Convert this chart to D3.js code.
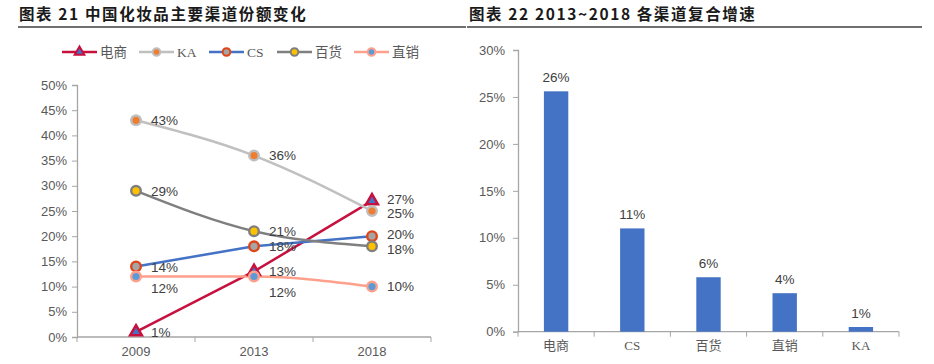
<!DOCTYPE html>
<html><head><meta charset="utf-8">
<script src="https://cdn.jsdelivr.net/npm/d3@7"></script>
<style>
body{margin:0;background:#fff;}
svg{display:block;}
</style></head>
<body>
<svg id="c" width="934" height="364"></svg>
<script>
// ---- data ----
const years = ["2009", "2013", "2018"];
const seriesNames = ["电商", "KA", "CS", "百货", "直销"];
const ecomShare = [1, 13, 27];
const kaShare = [43, 36, 25];
const csShare = [14, 18, 20];
const deptShare = [29, 21, 18];
const directShare = [12, 12, 10];
const leftTicks = [0, 5, 10, 15, 20, 25, 30, 35, 40, 45, 50];

const cagrCategories = ["电商", "CS", "百货", "直销", "KA"];
const cagrValues = [25.6, 11.0, 5.8, 4.1, 0.5];
const cagrLabels = ["26%", "11%", "6%", "4%", "1%"];
const rightTicks = [0, 5, 10, 15, 20, 25, 30];

const title1 = "图表 21 中国化妆品主要渠道份额变化";
const title2 = "图表 22 2013~2018 各渠道复合增速";

// ---- styles ----
const sans = "Liberation Sans, Arial, 'Noto Sans CJK SC', sans-serif";
const serif = "'Liberation Serif', 'Times New Roman', 'Noto Sans CJK SC', serif";
const axisColor = "#A6A6A6";
const tickText = "#595959";
const labelText = "#404040";

const series = [
  {name: seriesNames[0], values: ecomShare, line: "#C8103E", ring: "#C8103E", fill: "#4472C4", shape: "tri", smooth: false, dy: [0,0,-2]},
  {name: seriesNames[1], values: kaShare, line: "#C0C0C0", ring: "#BFBFBF", fill: "#ED7D31", shape: "circ", smooth: true, dy: [0,0,2]},
  {name: seriesNames[2], values: csShare, line: "#4472C4", ring: "#E0451A", fill: "#A5A5A5", shape: "circ", smooth: false, dy: [1,0,-2]},
  {name: seriesNames[3], values: deptShare, line: "#7F7F7F", ring: "#7F7F7F", fill: "#FFC000", shape: "circ", smooth: true, dy: [0,0,2.5]},
  {name: seriesNames[4], values: directShare, line: "#FFA08C", ring: "#FFA08C", fill: "#5B9BD5", shape: "circ", smooth: true, dy: [12,16,0]}
];

const svg = d3.select("#c");

// titles
function drawTitle(x, text, x1, x2) {
  svg.append("text").attr("x", x).attr("y", 20)
    .attr("font-family", "'Noto Sans CJK SC', sans-serif").attr("font-weight", "bold")
    .attr("font-size", 15.5).attr("letter-spacing", 1.6).attr("fill", "#1a1a1a").text(text);
  svg.append("line").attr("x1", x1).attr("x2", x2).attr("y1", 27).attr("y2", 27)
    .attr("stroke", "#404040").attr("stroke-width", 1.5);
}
drawTitle(19, title1, 18, 466);
drawTitle(469, title2, 467, 922);

// ---- left chart ----
const x1 = d3.scaleBand().domain(years).range([77, 431]);
const y1 = d3.scaleLinear().domain([0, 50]).range([337, 85]);

const gy1 = svg.append("g").attr("transform", "translate(77,0)")
  .call(d3.axisLeft(y1).tickValues(leftTicks).tickFormat(d => d + "%").tickSize(5).tickPadding(5));
const gx1 = svg.append("g").attr("transform", "translate(0,337)")
  .call(d3.axisBottom(x1).tickSize(0).tickPadding(10));
// category boundary ticks
svg.append("g").selectAll("line").data([77, ...years.map(d => x1(d) + x1.bandwidth())]).join("line")
  .attr("x1", d => d).attr("x2", d => d).attr("y1", 337).attr("y2", 342).attr("stroke", axisColor);

function styleAxis(g, fontFam) {
  g.select(".domain").attr("stroke", axisColor).attr("stroke-width", 1.3);
  g.selectAll(".tick line").attr("stroke", axisColor);
  g.selectAll(".tick text").attr("fill", tickText).attr("font-size", 13).attr("font-family", fontFam);
}
styleAxis(gy1, sans);
styleAxis(gx1, sans);
gx1.select(".domain").attr("d", "M77,0H431");

const cx = d => x1(d) + x1.bandwidth() / 2;

series.forEach(s => {
  const pts = years.map((yr, i) => [cx(yr), y1(s.values[i])]);
  const line = d3.line().curve(s.smooth ? d3.curveMonotoneX : d3.curveLinear);
  svg.append("path").attr("d", line(pts)).attr("fill", "none")
    .attr("stroke", s.line).attr("stroke-width", 2.5);
});
series.forEach(s => {
  const pts = years.map((yr, i) => [cx(yr), y1(s.values[i])]);
  pts.forEach(([px, py], i) => {
    if (s.shape === "tri") {
      svg.append("path").attr("d", d3.symbol().type(d3.symbolTriangle).size(60)())
        .attr("transform", `translate(${px},${py})`)
        .attr("fill", s.fill).attr("stroke", s.ring).attr("stroke-width", 2.5);
    } else {
      svg.append("circle").attr("cx", px).attr("cy", py).attr("r", 4.8)
        .attr("fill", s.fill).attr("stroke", s.ring).attr("stroke-width", 2.4);
    }
    svg.append("text").attr("x", px + 15).attr("y", py + s.dy[i]).attr("dy", "0.35em")
      .attr("font-family", sans).attr("font-size", 13.5).attr("fill", labelText)
      .text(s.values[i] + "%");
  });
});

// legend
const legendX = [62, 139, 209, 277, 354];
series.forEach((s, i) => {
  const lx = legendX[i], ly = 52;
  const g = svg.append("g");
  g.append("line").attr("x1", lx).attr("x2", lx + 35).attr("y1", ly).attr("y2", ly)
    .attr("stroke", s.line).attr("stroke-width", 2.5);
  if (s.shape === "tri") {
    g.append("path").attr("d", d3.symbol().type(d3.symbolTriangle).size(40)())
      .attr("transform", `translate(${lx + 17.5},${ly})`)
      .attr("fill", s.fill).attr("stroke", s.ring).attr("stroke-width", 2);
  } else {
    g.append("circle").attr("cx", lx + 17.5).attr("cy", ly).attr("r", 3.8)
      .attr("fill", s.fill).attr("stroke", s.ring).attr("stroke-width", 2);
  }
  g.append("text").attr("x", lx + 38).attr("y", ly).attr("dy", "0.35em")
    .attr("font-family", serif).attr("font-size", 13.5).attr("fill", tickText).text(s.name);
});

// ---- right chart ----
const x2 = d3.scaleBand().domain(cagrCategories).range([518, 899]).paddingInner(0.68).paddingOuter(0.34);
const y2 = d3.scaleLinear().domain([0, 30]).range([331.7, 50]);

const gy2 = svg.append("g").attr("transform", "translate(518,0)")
  .call(d3.axisLeft(y2).tickValues(rightTicks).tickFormat(d => d + "%").tickSize(5).tickPadding(8));
styleAxis(gy2, sans);
const gx2 = svg.append("g").attr("transform", "translate(0,331.7)")
  .call(d3.axisBottom(x2).tickSize(0).tickPadding(9));
styleAxis(gx2, serif);
gx2.select(".domain").attr("d", "M518,0H899");
const step = (899 - 518) / cagrCategories.length;
svg.append("g").selectAll("line").data(d3.range(cagrCategories.length + 1)).join("line")
  .attr("x1", i => 518 + i * step).attr("x2", i => 518 + i * step)
  .attr("y1", 331.7).attr("y2", 336.7).attr("stroke", axisColor);

svg.append("g").selectAll("rect").data(cagrCategories).join("rect")
  .attr("x", (d) => x2(d)).attr("width", x2.bandwidth())
  .attr("y", (d, i) => y2(cagrValues[i]))
  .attr("height", (d, i) => y2(0) - y2(cagrValues[i]))
  .attr("fill", "#4472C4");

svg.append("g").selectAll("text").data(cagrCategories).join("text")
  .attr("x", d => x2(d) + x2.bandwidth() / 2)
  .attr("y", (d, i) => y2(cagrValues[i]) - 9)
  .attr("text-anchor", "middle")
  .attr("font-family", sans).attr("font-size", 13.5).attr("fill", labelText)
  .text((d, i) => cagrLabels[i]);
</script>
</body></html>
